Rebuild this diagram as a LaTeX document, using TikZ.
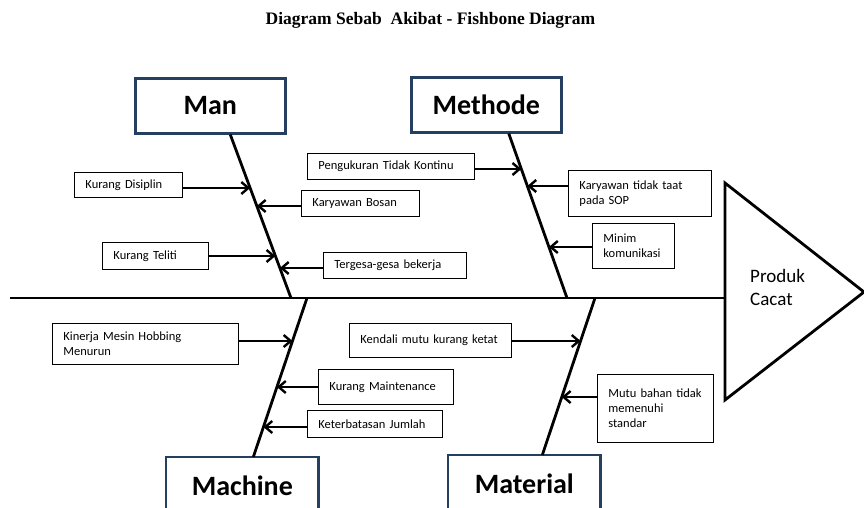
\documentclass[tikz,border=0pt]{standalone}
\usepackage{fontspec}
\setmainfont{Carlito}
\newfontfamily\titlefont{Liberation Serif}
\usetikzlibrary{arrows.meta}
\definecolor{catblue}{RGB}{36,63,96}
\tikzset{
  cat/.style={draw=catblue, line width=2.6pt, fill=white, minimum width=150pt, minimum height=55pt, inner sep=0pt, anchor=north west, font=\fontsize{28}{30}\selectfont\bfseries},
  catopen/.style={cat, draw=none},
  catline/.style={draw=catblue, line width=2.6pt, line join=miter},
  cause/.style={draw=black, line width=0.9pt, fill=white, inner xsep=11pt, inner ysep=0pt, anchor=north west, align=left, font=\fontsize{12.5}{15}\selectfont},
  bone/.style={line width=2.8pt},
  arr/.style={line width=2.4pt, -{Straight Barb[length=7pt,width=12pt]}},
}
\begin{document}
\begin{tikzpicture}[x=1pt,y=-1pt]
\useasboundingbox (0,0) rectangle (864,508);
\clip (0,0) rectangle (864,508);
% title
\node[font=\titlefont\bfseries\fontsize{17.5}{20}\selectfont, anchor=base] (title) at (430.5,25) {Diagram Sebab\ \ Akibat - Fishbone Diagram};
% spine and head
\coordinate (tA) at (725,183);
\coordinate (tB) at (725,400);
\coordinate (tC) at (864,292);
\coordinate (sp0) at (10,298);
\draw[line width=2.8pt] (sp0) -- (sp0 -| tA);
\draw[line width=2.8pt, line join=miter] (tA) -- (tC) -- (tB) -- cycle;
\node[anchor=west, align=left, font=\fontsize{19}{23}\selectfont, inner sep=0pt] (prod) at (750,287) {Produk\\Cacat};
% category boxes
\node[cat] (man) at (134,77) {Man};
\node[cat] (met) at (410,76) {Methode};
\node[catopen] (mac) at (166,457) {Machine};
\node[catopen] (mat) at (448,455) {Material};
\draw[catline] ([yshift=-30pt]mac.south west) -- (mac.north west) -- (mac.north east) -- ([yshift=-30pt]mac.south east);
\draw[catline] ([yshift=-30pt]mat.south west) -- (mat.north west) -- (mat.north east) -- ([yshift=-30pt]mat.south east);
% bones
\coordinate (manT) at ([xshift=20pt]man.south);
\coordinate (manJ) at (291,298);
\coordinate (metT) at ([xshift=22.5pt]met.south);
\coordinate (metJ) at (567,298);
\coordinate (macB) at ([xshift=11pt]mac.north);
\coordinate (macJ) at (307,298);
\coordinate (matB) at ([xshift=18pt]mat.north);
\coordinate (matJ) at (595,298);
\draw[bone] (manT) -- (manJ);
\draw[bone] (metT) -- (metJ);
\draw[bone] (macB) -- (macJ);
\draw[bone] (matB) -- (matJ);
% causes
\node[cause, text width=86pt, minimum height=25pt] (kd) at (74,172) {Kurang Disiplin};
\node[cause, text width=96pt, minimum height=26pt] (kb) at (301,190) {Karyawan Bosan};
\node[cause, text width=84pt, minimum height=27pt] (kt) at (102,242) {Kurang Teliti};
\node[cause, text width=121pt, minimum height=26pt] (tg) at (323,252) {Tergesa-gesa bekerja};
\node[cause, text width=145pt, minimum height=26pt] (pk) at (307,153) {Pengukuran Tidak Kontinu};
\node[cause, text width=121pt, minimum height=46pt] (ks) at (568,170) {Karyawan tidak taat\\pada SOP};
\node[cause, text width=60pt, minimum height=45pt] (mk) at (592,223) {Minim\\komunikasi};
\node[cause, text width=164pt, minimum height=41pt] (km) at (52,323) {Kinerja Mesin Hobbing\\Menurun};
\node[cause, text width=113pt, minimum height=35pt] (kmt) at (318,369) {Kurang Maintenance};
\node[cause, text width=113pt, minimum height=27pt] (kj) at (307,410) {Keterbatasan Jumlah};
\node[cause, text width=140pt, minimum height=34pt] (kdl) at (349,323) {Kendali mutu kurang ketat};
\node[cause, text width=94pt, minimum height=68pt] (mb) at (597,374) {Mutu bahan tidak\\memenuhi\\standar};
% arrow tips on bones
\coordinate (kdT) at (intersection of manT--manJ and 0,188--1,188);
\coordinate (kbT) at (intersection of manT--manJ and 0,206--1,206);
\coordinate (ktT) at (intersection of manT--manJ and 0,256--1,256);
\coordinate (tgT) at (intersection of manT--manJ and 0,268--1,268);
\coordinate (pkT) at (intersection of metT--metJ and 0,169--1,169);
\coordinate (ksT) at (intersection of metT--metJ and 0,186--1,186);
\coordinate (mkT) at (intersection of metT--metJ and 0,247--1,247);
\coordinate (kmT) at (intersection of macB--macJ and 0,341--1,341);
\coordinate (kmtT) at (intersection of macB--macJ and 0,387--1,387);
\coordinate (kjT) at (intersection of macB--macJ and 0,427--1,427);
\coordinate (kdlT) at (intersection of matB--matJ and 0,341--1,341);
\coordinate (mbT) at (intersection of matB--matJ and 0,397--1,397);
% arrows
\draw[arr] (kd.east |- kdT) -- (kdT);
\draw[arr] (kb.west |- kbT) -- (kbT);
\draw[arr] (kt.east |- ktT) -- (ktT);
\draw[arr] (tg.west |- tgT) -- (tgT);
\draw[arr] (pk.east |- pkT) -- (pkT);
\draw[arr] (ks.west |- ksT) -- (ksT);
\draw[arr] (mk.west |- mkT) -- (mkT);
\draw[arr] (km.east |- kmT) -- (kmT);
\draw[arr] (kmt.west |- kmtT) -- (kmtT);
\draw[arr] (kj.west |- kjT) -- (kjT);
\draw[arr] (kdl.east |- kdlT) -- (kdlT);
\draw[arr] (mb.west |- mbT) -- (mbT);
\end{tikzpicture}
\end{document}
